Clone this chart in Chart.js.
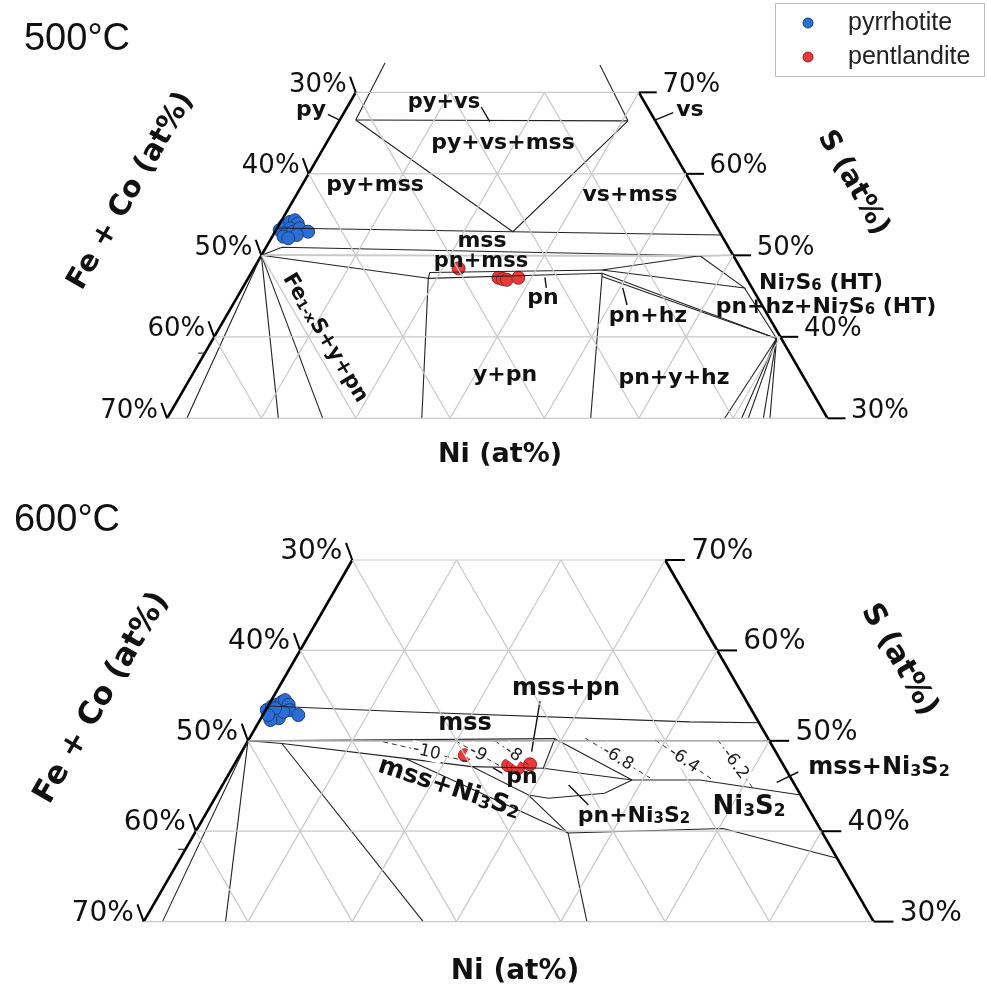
<!DOCTYPE html>
<html>
<head>
<meta charset="utf-8">
<script src="https://cdn.jsdelivr.net/npm/chart.js@4.4.1/dist/chart.umd.min.js"></script>
<style>
  html, body { margin: 0; padding: 0; background: #fff; }
  #wrap { position: relative; width: 987px; height: 998px; }
</style>
</head>
<body>
<div id="wrap"><canvas id="phaseChart"></canvas></div>
<script>
// ternary values are [Ni at%, S at%]; Fe + Co = 100 - Ni - S
const sTicks = [30, 40, 50, 60, 70];
const gridSteps = [10, 20, 30, 40, 50, 60];

// 500 °C
const pyrrhotite500 = [[0.4,53.1],[0.6,53.7],[1.0,54.1],[1.4,54.3],[1.9,53.9],[1.4,53.3],[1.3,52.7],
  [1.2,52.3],[1.9,52.9],[2.4,53.3],[3.5,52.9],[2.5,52.5],[1.8,52.1]];
const pentlandite500 = [[21.7,48.4],[26.5,47.25],[27.05,47.1],[27.5,47.0],[28.6,47.25]];
const phaseLines500 = [
  [[1.3,73.6],[1.7,66.6]],
  [[1.7,66.6],[30.6,66.5]],
  [[24.2,73.35],[30.6,66.5]],
  [[1.7,66.6],[25.2,52.9],[30.6,66.5]],
  [[0,53.35],[25.2,52.9],[47.5,52.5]],
  [[0,50],[1.7,51.0],[46.5,49.95],[50,50]],
  [[0,50],[46.5,49.95]],
  [[0,50],[19.1,47.18]],
  [[18.9,47.9],[37.0,48.2]],
  [[18.9,47.9],[19.1,47.18],[37.2,47.8],[37.4,47.4]],
  [[37.0,48.2],[46.5,49.95]],
  [[37.0,48.2],[53.2,46.0],[46.5,49.95]],
  [[53.2,46.0],[59.7,39.8]],
  [[37.2,47.8],[59.7,39.8]],
  [[37.4,47.4],[59.7,39.8]],
  [[37.4,47.4],[44.9,30]],
  [[19.1,47.18],[27.0,30]],
  [[0,50],[2.1,30]], [[0,50],[11.8,30]], [[0,50],[16.5,30]],
  [[59.7,39.8],[59.1,30]], [[59.7,39.8],[60.9,30]], [[59.7,39.8],[61.6,30]],
  [[59.7,39.8],[63.2,30]], [[59.7,39.8],[63.9,30]],
  [[0,38],[-0.7,38]]
];
const leaders500 = [
  [[-1.6,67.3],[0,66.6]],
  [[14.2,68.2],[16.0,66.4]],
  [[34.9,67.5],[33.4,66.6]],
  [[31.4,47.3],[32.2,46.0]],
  [[40.3,46.0],[41.8,43.9]]
];

// 600 °C
const pyrrhotite600 = [[0.1,53.4],[0.4,53.8],[0.8,54.0],[1.1,54.3],[1.3,54.5],[1.9,54.0],[2.3,53.4],
  [3.4,52.85],[1.0,52.85],[1.7,52.5],[1.0,52.3],[1.8,53.2],[0.8,53.6],[0.5,52.85]];
const pentlandite600 = [[21.6,48.4],[26.3,47.3],[26.8,47.2],[27.4,47.0],[28.35,47.4]];
const phaseLines600 = [
  [[0,53.85],[13.45,53.22],[41.3,52.1],[48,52]],
  [[0,50],[50,50]],
  [[0,50],[29.3,50.24]],
  [[29.3,50.24],[29.84,46.96]],
  [[29.3,50.24],[39.0,45.66]],
  [[22.9,47.15],[29.84,46.96],[39.0,45.66]],
  [[0,50],[3.4,49.7],[16.0,48.06],[22.9,47.15],[29.9,44.0],[32.0,43.64],[37.1,44.2],[39.0,45.66]],
  [[16.0,48.06],[35.8,39.8]],
  [[29.9,44.0],[35.8,39.8]],
  [[39.0,45.66],[45.5,45.66],[56,44]],
  [[35.8,39.8],[50.4,40.3],[63,37]],
  [[35.8,39.8],[42.5,30]],
  [[3.4,49.7],[26.8,30]],
  [[0,50],[1.8,30]], [[0,50],[7.85,30]],
  [[0,38],[-0.7,38]]
];
const leaders600 = [
  [[25.8,54.4],[27.8,48.8]],
  [[25.0,47.0],[26.2,46.4]],
  [[33.2,45.1],[36.2,42.9]],
  [[53.0,45.4],[54.5,46.55]]
];
const contourLevels600 = ['-10', '-9', '-8', '-6.8', '-6.4', '-6.2'];
const contours600 = [
  [[13.0,49.9],[22.5,47.65]],
  [[19.9,50.0],[25.6,47.2]],
  [[23.7,50.0],[28.5,47.2]],
  [[32.2,50.3],[40.6,45.9]],
  [[39.0,50.1],[46.7,45.7]],
  [[45.0,50.1],[51.0,44.8]]
];

const tern = p => ({ x: p[0] + p[1] / 2, y: p[1] });

function lineSet(pts, panel, style) {
  return Object.assign({
    data: pts.map(tern), showLine: true, pointRadius: 0, tension: 0,
    borderColor: '#222', borderWidth: 1.1, clip: false,
    xAxisID: 'x' + panel, yAxisID: 'y' + panel
  }, style || {});
}

function pointSet(pts, panel, fill, edge) {
  return {
    data: pts.map(tern), showLine: false, pointRadius: 6.5, pointBorderWidth: 1,
    backgroundColor: fill, borderColor: edge, clip: false,
    xAxisID: 'x' + panel, yAxisID: 'y' + panel
  };
}

const sMin = sTicks[0], sMax = sTicks[sTicks.length - 1];
function gridLines() {
  const g = [];
  sTicks.forEach(s => g.push([[0, s], [100 - s, s]]));
  gridSteps.forEach(n => {
    g.push([[n, sMin], [n, Math.min(sMax, 100 - n)]]);
    const sTop = Math.min(sMax, 100 - n);
    g.push([[100 - sMin - n, sMin], [100 - sTop - n, sTop]]);
  });
  return g;
}
const edges = [[[0, sMin], [0, sMax]], [[100 - sMin, sMin], [100 - sMax, sMax]]];

const datasets = [];
['T', 'B'].forEach(panel => {
  const top = panel === 'T';
  gridLines().forEach(l => datasets.push(lineSet(l, panel, { borderColor: '#c9c9c9', borderWidth: 1.2 })));
  (top ? phaseLines500 : phaseLines600).forEach(l => datasets.push(lineSet(l, panel)));
  (top ? leaders500 : leaders600).forEach(l => datasets.push(lineSet(l, panel, { borderWidth: 1.4, borderColor: '#111' })));
  if (!top) contours600.forEach(l => datasets.push(lineSet(l, panel, { borderDash: [5, 4], borderColor: '#333', borderWidth: 1 })));
  edges.forEach(l => datasets.push(lineSet(l, panel, { borderColor: '#000', borderWidth: 2.6 })));
  datasets.push(pointSet(top ? pyrrhotite500 : pyrrhotite600, panel, '#2b6fd6', '#173f7a'));
  datasets.push(pointSet(top ? pentlandite500 : pentlandite600, panel, '#e83a3a', '#9c1f1f'));
});

const BOLD = '"DejaVu Sans", Verdana, sans-serif';

function rich(ctx, str, x, y, size, opts) {
  opts = opts || {};
  const parts = [];
  str.replace(/_\{([^}]*)\}|_(.)|([^_]+)/g, (m, a, b, c) => {
    if (c) parts.push({ t: c, sub: false }); else parts.push({ t: a || b, sub: true });
  });
  const weight = opts.normal ? '' : 'bold ';
  ctx.save();
  ctx.translate(x, y);
  ctx.rotate((opts.rot || 0) * Math.PI / 180);
  let w = 0;
  parts.forEach(p => {
    ctx.font = weight + (p.sub ? Math.round(size * 0.66) : size) + 'px ' + (opts.family || BOLD);
    p.w = ctx.measureText(p.t).width; w += p.w;
  });
  let cx = opts.align === 'left' ? 0 : opts.align === 'right' ? -w : -w / 2;
  ctx.textBaseline = 'middle';
  ctx.fillStyle = opts.color || '#111';
  if (opts.bg) { ctx.fillStyle = '#fff'; ctx.fillRect(cx - 2, -size * 0.5, w + 4, size); ctx.fillStyle = opts.color || '#111'; }
  parts.forEach(p => {
    ctx.font = weight + (p.sub ? Math.round(size * 0.66) : size) + 'px ' + (opts.family || BOLD);
    ctx.fillText(p.t, cx, p.sub ? size * 0.16 : 0);
    cx += p.w;
  });
  ctx.restore();
}

const labels500 = [
  ['py', 311, 110, 22], ['py+vs', 444, 103, 21], ['py+vs+mss', 503, 143, 22], ['py+mss', 375, 185, 22],
  ['vs+mss', 630, 195, 22], ['vs', 690, 110, 22], ['mss', 482, 241, 22], ['pn+mss', 481, 262, 21],
  ['pn', 543, 298, 22], ['y+pn', 505, 375, 22], ['pn+hz', 648, 316, 22], ['pn+y+hz', 674, 378, 22],
  ['Ni_7S_6 (HT)', 821, 283, 22], ['pn+hz+Ni_7S_6 (HT)', 826, 307, 22]
];
const labels600 = [
  ['mss+pn', 566, 689, 24], ['mss', 465, 724, 24], ['pn', 522, 777, 22], ['pn+Ni_3S_2', 634, 816, 22],
  ['Ni_3S_2', 749, 807, 26], ['mss+Ni_3S_2', 879, 768, 24]
];

const textPlugin = {
  id: 'ternaryText',
  afterDatasetsDraw(chart) {
    const ctx = chart.ctx;
    ['T', 'B'].forEach(panel => {
      const xs = chart.scales['x' + panel], ys = chart.scales['y' + panel];
      const k = xs.getPixelForValue(1) - xs.getPixelForValue(0);
      const fs = Math.round(k * 2.72);
      ctx.save();
      ctx.strokeStyle = '#000';
      ctx.lineWidth = 2;
      sTicks.forEach(s => {
        const lx = xs.getPixelForValue(s / 2), ly = ys.getPixelForValue(s);
        ctx.beginPath(); ctx.moveTo(lx, ly); ctx.lineTo(lx - 0.6 * k, ly - 1.65 * k); ctx.stroke();
        rich(ctx, (100 - s) + '%', lx - 0.95 * k, ly - 0.8 * k, fs, { normal: true, align: 'right', color: '#111' });
        const rx = xs.getPixelForValue(100 - s / 2);
        ctx.beginPath(); ctx.moveTo(rx, ly); ctx.lineTo(rx + 1.9 * k, ly); ctx.stroke();
        rich(ctx, s + '%', rx + 2.5 * k, ly - 0.8 * k, fs, { normal: true, align: 'left', color: '#111' });
      });
      ctx.restore();
      if (panel === 'B') {
        contours600.forEach((c, i) => {
          const a = c[0], b = c[1];
          const ax = xs.getPixelForValue(a[0] + a[1] / 2), ay = ys.getPixelForValue(a[1]);
          const bx = xs.getPixelForValue(b[0] + b[1] / 2), by = ys.getPixelForValue(b[1]);
          const ang = Math.atan2(by - ay, bx - ax) * 180 / Math.PI;
          rich(ctx, contourLevels600[i], (ax + bx) / 2, (ay + by) / 2, 17, { normal: true, rot: ang, bg: true, color: '#222' });
        });
      }
    });
    labels500.forEach(l => rich(ctx, l[0], l[1], l[2], l[3]));
    labels600.forEach(l => rich(ctx, l[0], l[1], l[2], l[3]));
    rich(ctx, 'Fe_{1-x}S+y+pn', 325, 338, 21, { rot: 59 });
    rich(ctx, 'mss+Ni_3S_2', 449, 788, 25, { rot: 18 });

    // axis titles
    rich(ctx, 'Fe + Co (at%)', 131, 191, 29, { rot: -60 });
    rich(ctx, 'S (at%)', 853, 183, 28, { rot: 60 });
    rich(ctx, 'Ni (at%)', 500, 455, 27);
    rich(ctx, 'Fe + Co (at%)', 102, 698, 31, { rot: -60 });
    rich(ctx, 'S (at%)', 899, 660, 30, { rot: 60 });
    rich(ctx, 'Ni (at%)', 515, 972, 28);
    rich(ctx, '500°C', 77, 40, 38, { normal: true, family: '"Liberation Sans", Arial, sans-serif' });
    rich(ctx, '600°C', 67, 521, 38, { normal: true, family: '"Liberation Sans", Arial, sans-serif' });

    // legend
    ctx.save();
    ctx.fillStyle = '#fff'; ctx.strokeStyle = '#bdbdbd'; ctx.lineWidth = 1;
    ctx.fillRect(775.5, 3.5, 209, 73); ctx.strokeRect(775.5, 3.5, 209, 73);
    [['pyrrhotite', '#2b6fd6', '#173f7a', 23], ['pentlandite', '#e83a3a', '#9c1f1f', 57]].forEach(e => {
      ctx.beginPath(); ctx.arc(808, e[3], 5, 0, Math.PI * 2);
      ctx.fillStyle = e[1]; ctx.fill(); ctx.strokeStyle = e[2]; ctx.stroke();
      rich(ctx, e[0], 848, e[3], 25, { normal: true, align: 'left', family: '"Liberation Sans", Arial, sans-serif', color: '#222' });
    });
    ctx.restore();
  }
};

new Chart(document.getElementById('phaseChart'), {
  type: 'scatter',
  data: { datasets },
  options: {
    responsive: true, maintainAspectRatio: false, animation: false, events: [],
    layout: { padding: 0, autoPadding: false },
    plugins: { legend: { display: false }, tooltip: { enabled: false } },
    scales: {
      xT: { type: 'linear', display: false, min: -2.70, max: 101.9 },
      yT: { type: 'linear', display: false, min: -41.13, max: 81.33 },
      xB: { type: 'linear', display: false, min: 1.218, max: 95.87 },
      yB: { type: 'linear', display: false, min: 21.55, max: 131.95 }
    }
  },
  plugins: [textPlugin]
});
</script>
</body>
</html>
